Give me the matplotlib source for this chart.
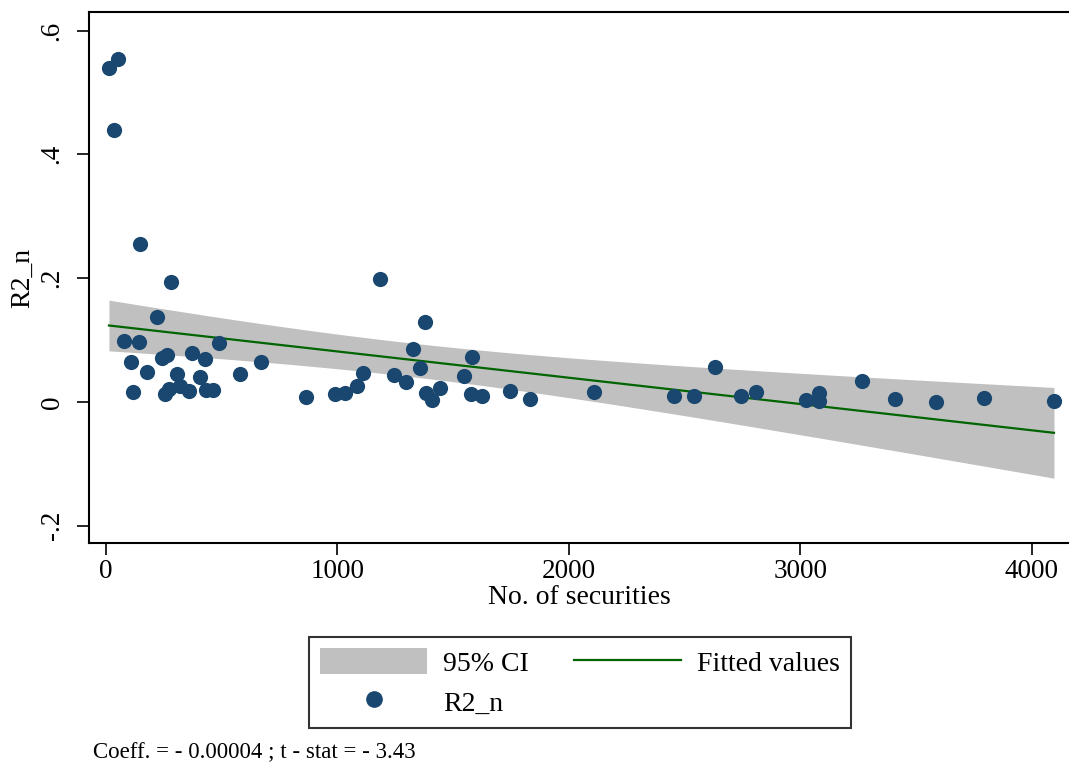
import numpy as np
import matplotlib
matplotlib.use("Agg")
import matplotlib.pyplot as plt
from matplotlib.patches import Patch
from matplotlib.lines import Line2D

plt.rcParams['font.family'] = ['Liberation Serif', 'DejaVu Serif']

# number of securities per market and R2_n
n_sec = [13, 51, 35, 148, 279, 220, 78, 144, 109, 115,
         176, 241, 262, 305, 256, 273, 320, 359, 373, 429,
         406, 432, 463, 489, 578, 671, 865, 990, 1034, 1086,
         1109, 1182, 1245, 1296, 1326, 1377, 1355, 1382, 1408, 1443,
         1548, 1581, 1575, 1624, 1747, 1833, 2109, 2454, 2539, 2632,
         2742, 2808, 3022, 3081, 3078, 3267, 3407, 3585, 3794, 4095]
r2_n = [0.540, 0.554, 0.440, 0.255, 0.193, 0.137, 0.099, 0.097, 0.065, 0.016,
        0.049, 0.071, 0.076, 0.045, 0.012, 0.021, 0.026, 0.018, 0.079, 0.069,
        0.040, 0.019, 0.019, 0.095, 0.045, 0.064, 0.008, 0.012, 0.015, 0.025,
        0.047, 0.198, 0.043, 0.032, 0.086, 0.129, 0.054, 0.014, 0.003, 0.022,
        0.042, 0.073, 0.013, 0.010, 0.017, 0.005, 0.016, 0.010, 0.009, 0.057,
        0.010, 0.016, 0.003, 0.015, 0.002, 0.034, 0.005, 0.000, 0.006, 0.001]

x_ticks = [0, 1000, 2000, 3000, 4000]
y_ticks = [-0.2, 0, 0.2, 0.4, 0.6]
y_tick_labels = ["-.2", "0", ".2", ".4", ".6"]
note = "Coeff. = - 0.00004 ; t - stat = - 3.43"

navy = "#1a476f"
green = "#006400"
band = "#c0c0c0"

# linear fit with 95% CI of the mean prediction (like Stata lfitci)
x = np.array(n_sec, dtype=float)
y = np.array(r2_n, dtype=float)
n = len(x)
slope, intercept = np.polyfit(x, y, 1)
resid = y - (intercept + slope * x)
s = np.sqrt(np.sum(resid ** 2) / (n - 2))
sxx = np.sum((x - x.mean()) ** 2)
t_crit = 2.002  # t(0.975, 58)
xg = np.linspace(x.min(), x.max(), 200)
yg = intercept + slope * xg
se = s * np.sqrt(1.0 / n + (xg - x.mean()) ** 2 / sxx)

fig = plt.figure(figsize=(10.69, 7.65), dpi=100)
ax = fig.add_axes([0.0833, 0.2902, 0.9167, 0.6941])

ax.fill_between(xg, yg - t_crit * se, yg + t_crit * se, color=band, linewidth=0, zorder=1)
ax.plot(xg, yg, color=green, linewidth=1.6, zorder=2)
ax.scatter(x, y, s=120, color=navy, linewidths=0, zorder=3)

ax.set_xlim(-73, 4160)
ax.set_ylim(-0.228, 0.63)
ax.set_xticks(x_ticks)
ax.set_yticks(y_ticks)
ax.set_yticklabels(y_tick_labels, rotation=90, va='center')
ax.tick_params(axis='both', labelsize=19.5, length=8.5, width=1.2, direction='out')
ax.tick_params(axis='x', pad=3)
ax.tick_params(axis='y', pad=9)
ax.set_xlabel("No. of securities", fontsize=20, labelpad=1)
ax.set_ylabel("R2_n", fontsize=20, labelpad=3)
for side in ['left', 'bottom', 'top']:
    ax.spines[side].set_linewidth(1.5)
ax.spines['right'].set_visible(False)

handles = [Patch(facecolor=band, edgecolor='none', label="95% CI"),
           Line2D([], [], color=navy, marker='o', linestyle='none', markersize=11, label="R2_n"),
           Line2D([], [], color=green, linewidth=1.6, label="Fitted values")]
leg = fig.legend(handles=handles, ncol=2, loc='center', bbox_to_anchor=(580 / 1069, 1 - 682.5 / 765),
                 fontsize=20, frameon=True, fancybox=False, edgecolor='black',
                 handlelength=3.85, handleheight=1.04, handletextpad=0.58, columnspacing=1.62,
                 borderpad=0.4, labelspacing=0.42, borderaxespad=0)
leg.get_frame().set_linewidth(1.5)

fig.text(93 / 1069, 1 - 753 / 765, note, fontsize=16.5, va='center', ha='left')

fig.savefig("out.png", dpi=100)
